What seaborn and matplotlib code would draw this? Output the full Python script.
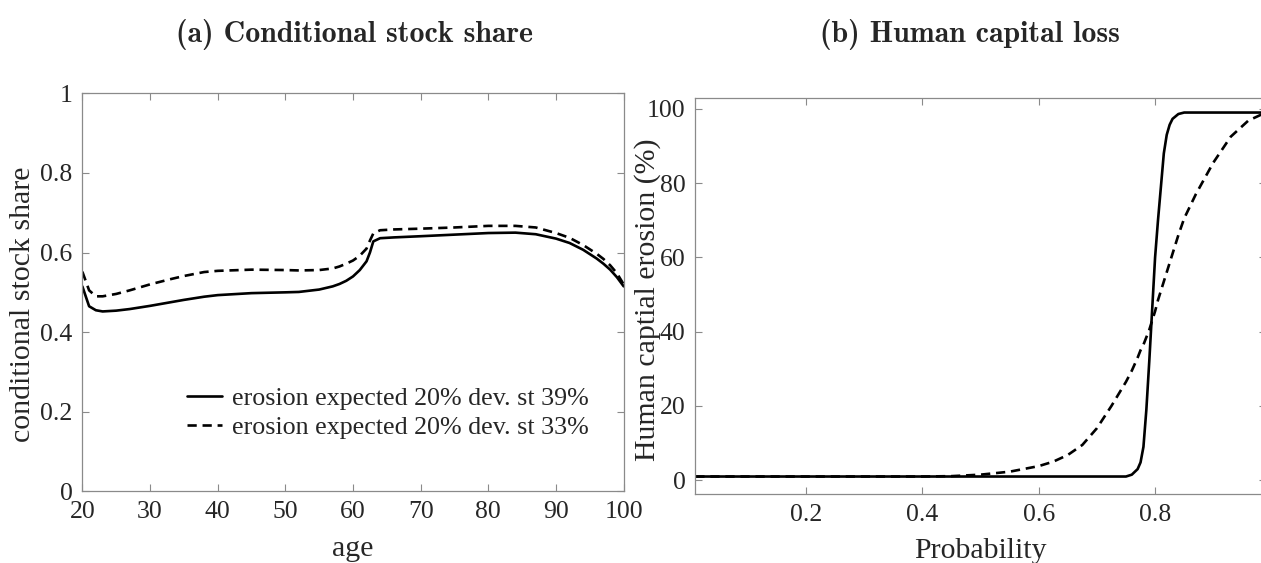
import pandas as pd
import seaborn as sns
import matplotlib.pyplot as plt

# --- data ---
AGE = [20, 21, 22, 23, 25, 27, 30, 33, 35, 38, 40, 45, 50, 52, 55, 57, 58, 59, 60,
       61, 62, 62.5, 63, 64, 66, 70, 75, 80, 84, 87, 90, 92, 94, 96, 97, 98, 99, 100]
SHARE_SD39 = [0.515, 0.465, 0.455, 0.452, 0.454, 0.458, 0.466, 0.475, 0.481, 0.489,
              0.493, 0.498, 0.500, 0.501, 0.507, 0.515, 0.521, 0.529, 0.540, 0.556,
              0.578, 0.600, 0.628, 0.636, 0.638, 0.641, 0.645, 0.649, 0.650, 0.646,
              0.635, 0.624, 0.607, 0.585, 0.572, 0.557, 0.538, 0.515]
SHARE_SD33 = [0.552, 0.505, 0.490, 0.490, 0.496, 0.505, 0.520, 0.533, 0.541, 0.551,
              0.554, 0.557, 0.556, 0.555, 0.556, 0.560, 0.565, 0.572, 0.580, 0.592,
              0.610, 0.630, 0.648, 0.656, 0.658, 0.660, 0.663, 0.667, 0.667, 0.663,
              0.649, 0.637, 0.619, 0.597, 0.584, 0.568, 0.548, 0.520]

PROB = [0.01, 0.1, 0.2, 0.3, 0.4, 0.45, 0.5, 0.55, 0.6, 0.625, 0.65, 0.675, 0.7,
        0.725, 0.75, 0.76, 0.77, 0.775, 0.78, 0.785, 0.79, 0.795, 0.8, 0.805, 0.81,
        0.815, 0.82, 0.825, 0.83, 0.84, 0.85, 0.87, 0.9, 0.93, 0.96, 0.99]
EROSION_SD39 = [1.0, 1.0, 1.0, 1.0, 1.0, 1.0, 1.0, 1.0, 1.0, 1.0, 1.0, 1.0, 1.0,
                1.0, 1.0, 1.5, 3.0, 4.8, 9.0, 19.0, 32.0, 46.0, 60.0, 70.0, 79.0,
                88.0, 93.0, 95.7, 97.3, 98.6, 99.0, 99.0, 99.0, 99.0, 99.0, 99.0]
EROSION_SD33 = [1.0, 1.0, 1.0, 1.0, 1.0, 1.1, 1.5, 2.3, 3.8, 5.0, 6.8, 9.5, 14.0,
                20.0, 26.5, 29.5, 33.0, 35.0, 36.5, 38.5, 40.5, 43.0, 45.5, 48.5, 51.0,
                53.5, 56.0, 58.5, 61.0, 66.0, 70.5, 77.0, 85.5, 92.5, 96.8, 99.0]

LABEL_39 = "erosion expected 20% dev. st 39%"
LABEL_33 = "erosion expected 20% dev. st 33%"

TEXT = "#262626"
SPINE = "#8a8a8a"
DASH = (0, (3.5, 2.2))

sns.set_style("ticks")
plt.rcParams["font.family"] = ["Liberation Serif", "DejaVu Serif"]
plt.rcParams["text.color"] = TEXT
plt.rcParams["axes.labelcolor"] = TEXT

df_a = pd.DataFrame({"age": AGE, "sd39": SHARE_SD39, "sd33": SHARE_SD33})
df_b = pd.DataFrame({"prob": PROB, "sd39": EROSION_SD39, "sd33": EROSION_SD33})

fig = plt.figure(figsize=(12.61, 5.63), dpi=100)
ax1 = fig.add_axes([0.0653, 0.1273, 0.4293, 0.7069])
ax2 = fig.add_axes([0.5514, 0.1226, 0.4523, 0.7039])

# (a) conditional stock share
sns.lineplot(data=df_a, x="age", y="sd39", ax=ax1, color="black", lw=1.9, label=LABEL_39)
sns.lineplot(data=df_a, x="age", y="sd33", ax=ax1, color="black", lw=1.9,
             linestyle=DASH, label=LABEL_33)
ax1.set_xlim(20, 100)
ax1.set_ylim(0, 1)
ax1.set_xticks(range(20, 101, 10))
ax1.set_yticks([0, 0.2, 0.4, 0.6, 0.8, 1])
ax1.set_yticklabels(["0", "0.2", "0.4", "0.6", "0.8", "1"])
ax1.set_xlabel("age", fontsize=21.5)
ax1.set_ylabel("conditional stock share", fontsize=21.5)
ax1.xaxis.set_label_coords(0.5, -0.113)
ax1.yaxis.set_label_coords(-0.085, 0.47)
ax1.legend(loc="lower right", bbox_to_anchor=(0.955, 0.105), frameon=False, fontsize=18.7,
           handlelength=1.35, handletextpad=0.4, labelspacing=0.22, borderaxespad=0)

# (b) human capital loss
sns.lineplot(data=df_b, x="prob", y="sd39", ax=ax2, color="black", lw=1.9)
sns.lineplot(data=df_b, x="prob", y="sd33", ax=ax2, color="black", lw=1.9, linestyle=DASH)
ax2.set_xlim(0.01, 0.99)
ax2.set_ylim(-3.7, 103)
ax2.set_xticks([0.2, 0.4, 0.6, 0.8])
ax2.set_yticks(range(0, 101, 20))
ax2.set_xlabel("Probability", fontsize=21.5)
ax2.set_ylabel("Human captial erosion (%)", fontsize=21.5)
ax2.xaxis.set_label_coords(0.5, -0.112)
ax2.yaxis.set_label_coords(-0.06, 0.49)

for ax in (ax1, ax2):
    for sp in ax.spines.values():
        sp.set_visible(True)
        sp.set_color(SPINE)
        sp.set_linewidth(0.9)
    ax.tick_params(direction="in", top=True, right=True, length=5, width=0.8,
                   color=SPINE, labelsize=18.5, labelcolor=TEXT, pad=7)

fig.text(354 / 1261, 1 - 34 / 563, "(a) Conditional stock share", fontsize=21.5,
         fontweight="bold", family=["cmb10", "DejaVu Serif"], ha="center", va="center")
fig.text(970 / 1261, 1 - 34 / 563, "(b) Human capital loss", fontsize=21.5,
         fontweight="bold", family=["cmb10", "DejaVu Serif"], ha="center", va="center")

fig.savefig("out.png", dpi=100)
